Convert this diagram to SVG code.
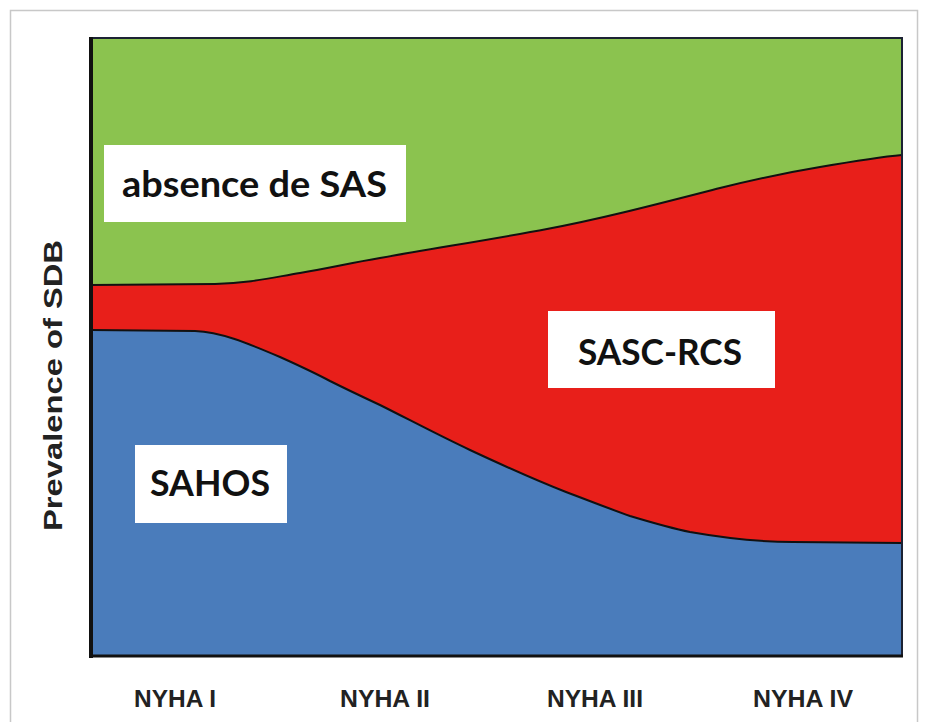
<svg xmlns="http://www.w3.org/2000/svg" width="927" height="722" viewBox="0 0 927 722">
<style>
.lbl{font-family:Lato,"Open Sans",sans-serif;font-weight:700;font-size:37px;fill:#111}
.ax{font-family:"Liberation Sans",Arial,sans-serif;font-weight:700;fill:#222}
.box{fill:#ffffff}
.edge{fill:none;stroke:#111;stroke-width:2}
</style>
<rect x="0" y="0" width="927" height="722" fill="#ffffff"/>
<rect x="10.5" y="10.5" width="907" height="720" fill="none" stroke="#c8c8c8" stroke-width="1.5"/>
<g id="plot">
<rect id="absence-area" x="91" y="38" width="811" height="618" fill="#8bc34f"/>
<path id="sasc-area" d="M91,285 L215,284 C250,283 270,278 300,273 C330,268 350,263 380,258 C430,249 500,238 547,229 C600,219 650,206 720,188 C760,178 790,172 820,167 C855,161 880,157 902,155 L902,656 L91,656 Z" fill="#e81f1a"/>
<path id="sahos-area" d="M91,330 L195,331 C220,332 245,342 280,357 C300,366 315,373 330,381 C350,391 365,398 380,405 C410,420 440,436 470,450 C500,464 530,478 566,492 C590,501 610,509 630,516 C650,522 670,528 690,532 C730,539 760,542 793,542 L902,543 L902,656 L91,656 Z" fill="#4a7cbb"/>
</g>
<g id="boundaries">
<path class="edge" d="M91,285 L215,284 C250,283 270,278 300,273 C330,268 350,263 380,258 C430,249 500,238 547,229 C600,219 650,206 720,188 C760,178 790,172 820,167 C855,161 880,157 902,155"/>
<path class="edge" d="M91,330 L195,331 C220,332 245,342 280,357 C300,366 315,373 330,381 C350,391 365,398 380,405 C410,420 440,436 470,450 C500,464 530,478 566,492 C590,501 610,509 630,516 C650,522 670,528 690,532 C730,539 760,542 793,542 L902,543"/>
<rect x="91" y="38" width="811" height="618" fill="none" stroke="#1c2233" stroke-width="2"/>
<line x1="91" y1="37" x2="91" y2="658" stroke="#111" stroke-width="4"/>
<line x1="89" y1="656" x2="903" y2="656" stroke="#111" stroke-width="3"/>
</g>
<g id="label-absence">
<rect class="box" x="104" y="145" width="302" height="77"/>
<text class="lbl" x="122" y="197" textLength="265" lengthAdjust="spacingAndGlyphs">absence de SAS</text>
</g>
<g id="label-sasc">
<rect class="box" x="548" y="311" width="227" height="77"/>
<text class="lbl" x="578" y="365" textLength="164" lengthAdjust="spacingAndGlyphs">SASC-RCS</text>
</g>
<g id="label-sahos">
<rect class="box" x="135" y="445" width="152" height="78"/>
<text class="lbl" x="150" y="496" textLength="120" lengthAdjust="spacingAndGlyphs">SAHOS</text>
</g>
<g id="y-axis-label">
<text class="ax" font-size="26" transform="translate(62,531) rotate(-90)" x="0" y="0" textLength="291" lengthAdjust="spacingAndGlyphs">Prevalence of SDB</text>
</g>
<g id="x-axis-labels">
<text class="ax" font-size="23" x="175" y="707" text-anchor="middle" textLength="82" lengthAdjust="spacingAndGlyphs">NYHA I</text>
<text class="ax" font-size="23" x="385" y="707" text-anchor="middle" textLength="90" lengthAdjust="spacingAndGlyphs">NYHA II</text>
<text class="ax" font-size="23" x="595" y="707" text-anchor="middle" textLength="96" lengthAdjust="spacingAndGlyphs">NYHA III</text>
<text class="ax" font-size="23" x="803" y="707" text-anchor="middle" textLength="100" lengthAdjust="spacingAndGlyphs">NYHA IV</text>
</g>
</svg>
